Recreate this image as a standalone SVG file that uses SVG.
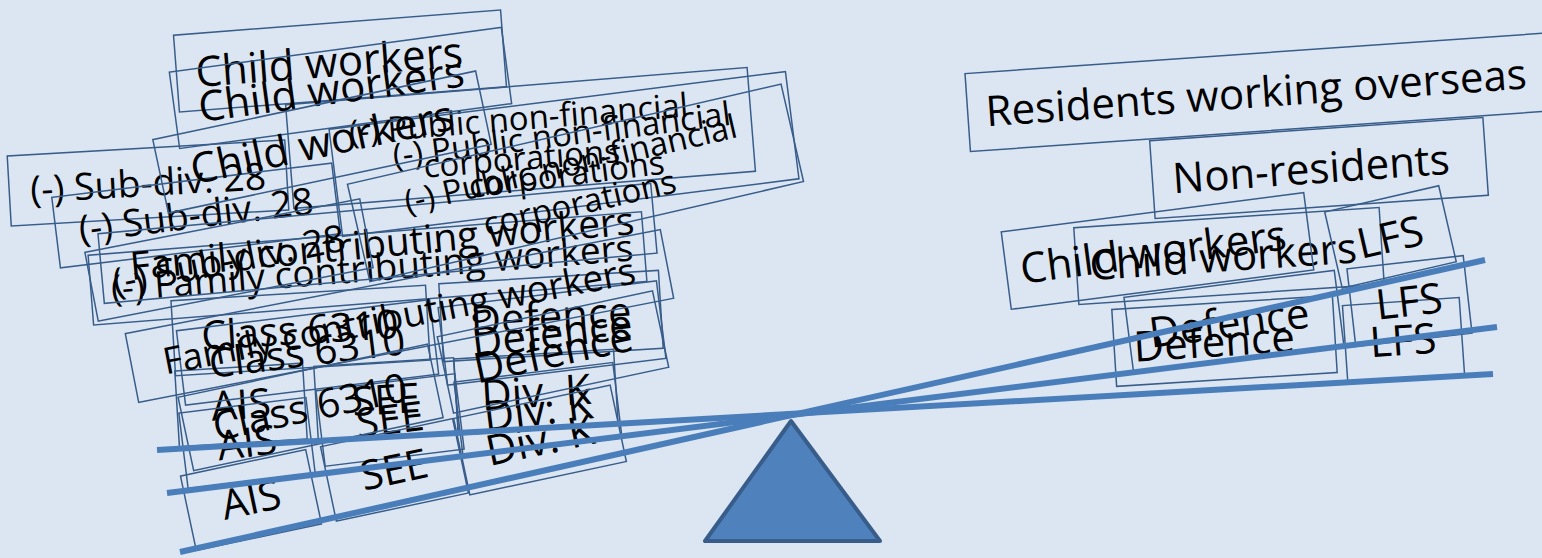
<svg xmlns="http://www.w3.org/2000/svg" width="1542" height="558" viewBox="0 0 1542 558">
<style>
.bx{fill:none;stroke:#385d8a;stroke-width:1.5}
.t{font-family:"Open Sans","Noto Sans",sans-serif;font-size:42px;fill:#000;text-anchor:middle}
.s40{font-size:40px}.s41{font-size:41px}.s39{font-size:39px}.s37{font-size:37.5px}.s36{font-size:37px}.s33{font-size:33px}
.beam{stroke:#4a7ebb;stroke-width:6;stroke-linecap:butt}
</style>
<rect width="1542" height="558" fill="#dce6f2"/>
<g id="frame1-left">
<g id="cw1" transform="translate(340,61) rotate(-4.4)"><rect class="bx" x="-164" y="-38.5" width="328" height="77"/><text class="t" x="-11" y="15">Child workers</text></g>
<g id="sd1" transform="translate(148,183) rotate(-3.3)"><rect class="bx" x="-139" y="-35" width="278" height="70"/><text class="t s37" y="13">(-) Sub-div. 28</text></g>
<g id="pub1" transform="translate(520,138) rotate(-4.6)"><rect class="bx" x="-231" y="-52" width="463" height="104"/><text class="t s33" y="-8">(-) Public non-financial</text><text class="t s33" y="32">corporations</text></g>
<g id="fcw1" transform="translate(372,268) rotate(-4.5)"><rect class="bx" x="-282" y="-35" width="555" height="70"/><text class="t s36" y="13">(-) Family contributing workers</text></g>
<g id="c1" transform="translate(300,330) rotate(-3.5)"><rect class="bx" x="-127" y="-37" width="255" height="75"/><text class="t s40" y="14">Class 6310</text></g>
<g id="d1" transform="translate(551,316) rotate(-3.5)"><rect class="bx" x="-110" y="-39" width="220" height="78"/><text class="t" y="15">Defence</text></g>
<g id="a1" transform="translate(241,405) rotate(-3.5)"><rect class="bx" x="-64" y="-38" width="128" height="76"/><text class="t s41" y="14">AIS</text></g>
<g id="s1" transform="translate(386,400) rotate(-3.5)"><rect class="bx" x="-70" y="-38" width="140" height="76"/><text class="t s41" y="14">SEE</text></g>
<g id="k1" transform="translate(536,392) rotate(-3.5)"><rect class="bx" x="-80" y="-38" width="160" height="76"/><text class="t" y="15">Div. K</text></g>
</g>
<g id="frame2-left">
<g id="cw2" transform="translate(340,88) rotate(-7.7)"><rect class="bx" x="-167" y="-38.5" width="335" height="77"/><text class="t" x="-9" y="15">Child workers</text></g>
<g id="sd2" transform="translate(196,215) rotate(-7)"><rect class="bx" x="-141" y="-35" width="282" height="71"/><text class="t s37" y="13">(-) Sub-div. 28</text></g>
<g id="pub2" transform="translate(564,154) rotate(-7.2)"><rect class="bx" x="-230" y="-54" width="460" height="108"/><text class="t s33" y="-8">(-) Public non-financial</text><text class="t s33" y="32">corporations</text></g>
<g id="fcw2" transform="translate(382,243) rotate(-5.2)"><rect class="bx" x="-282" y="-35" width="555" height="70"/><text class="t s39" y="14">Family contributing workers</text></g>
<g id="c2" transform="translate(307,352) rotate(-7)"><rect class="bx" x="-127" y="-37" width="255" height="75"/><text class="t s40" y="14">Class 6310</text></g>
<g id="d2" transform="translate(552,333) rotate(-7)"><rect class="bx" x="-110" y="-39" width="220" height="78"/><text class="t" y="15">Defence</text></g>
<g id="a2" transform="translate(247,443) rotate(-7)"><rect class="bx" x="-64" y="-38" width="128" height="76"/><text class="t s41" y="14">AIS</text></g>
<g id="s2" transform="translate(390,420) rotate(-7)"><rect class="bx" x="-70" y="-38" width="140" height="76"/><text class="t s41" y="14">SEE</text></g>
<g id="k2" transform="translate(538,410) rotate(-7)"><rect class="bx" x="-80" y="-38" width="160" height="76"/><text class="t" y="15">Div. K</text></g>
</g>
<g id="frame3-left">
<g id="cw3" transform="translate(322,142) rotate(-12)"><rect class="bx" x="-165" y="-37.5" width="330" height="75"/><text class="t" y="15">Child workers</text></g>
<g id="sd3" transform="translate(229,260) rotate(-11)"><rect class="bx" x="-140" y="-35" width="280" height="70"/><text class="t s37" y="13">(-) Sub-div. 28</text></g>
<g id="pub3" transform="translate(575,183) rotate(-13)"><rect class="bx" x="-222" y="-50" width="445" height="100"/><text class="t s33" y="-8">(-) Public non-financial</text><text class="t s33" y="32">corporations</text></g>
<g id="fcw3" transform="translate(399,316) rotate(-11)"><rect class="bx" x="-272" y="-35" width="545" height="70"/><text class="t s36" y="13">Family contributing workers</text></g>
<g id="c3" transform="translate(310,407) rotate(-12)"><rect class="bx" x="-127" y="-37" width="255" height="75"/><text class="t s40" y="14">Class 6310</text></g>
<g id="d3" transform="translate(553,352) rotate(-12)"><rect class="bx" x="-110" y="-39" width="220" height="78"/><text class="t" y="15">Defence</text></g>
<g id="a3" transform="translate(251,500) rotate(-12)"><rect class="bx" x="-64" y="-38" width="128" height="76"/><text class="t s41" y="14">AIS</text></g>
<g id="s3" transform="translate(394,470) rotate(-12)"><rect class="bx" x="-67" y="-38" width="135" height="76"/><text class="t s41" y="14">SEE</text></g>
<g id="k3" transform="translate(540,440) rotate(-12)"><rect class="bx" x="-80" y="-39" width="160" height="78"/><text class="t" y="15">Div. K</text></g>
</g>
<g id="right">
<g id="rwo" transform="translate(1262,92) rotate(-4)"><rect class="bx" x="-295" y="-39" width="590" height="78"/><text class="t" x="-6" y="15">Residents working overseas</text></g>
<g id="nr" transform="translate(1319,168) rotate(-4)"><rect class="bx" x="-167" y="-39" width="334" height="78"/><text class="t" x="-8" y="15">Non-residents</text></g>
<g id="cwR1" transform="translate(1229,256) rotate(-3.8)"><rect class="bx" x="-153" y="-38.5" width="306" height="77"/><text class="t" x="-6" y="15">Child workers</text></g>
<g id="cwR2" transform="translate(1157,251) rotate(-7.4)"><rect class="bx" x="-152" y="-39" width="305" height="78"/><text class="t" x="-4" y="15">Child workers</text></g>
<g id="dR1" transform="translate(1224,341) rotate(-3.6)"><rect class="bx" x="-110" y="-38.5" width="221" height="77"/><text class="t" x="-10" y="15">Defence</text></g>
<g id="dR2" transform="translate(1234,322) rotate(-7.3)"><rect class="bx" x="-106" y="-38.5" width="212" height="77"/><text class="t" x="-5" y="15">Defence</text></g>
<g id="lR1" transform="translate(1403,340) rotate(-4)"><rect class="bx" x="-58" y="-38.5" width="117" height="77"/><text class="t" y="15">LFS</text></g>
<g id="lR2" transform="translate(1409,301) rotate(-6.5)"><rect class="bx" x="-58" y="-39" width="117" height="78"/><text class="t" y="15">LFS</text></g>
<g id="lR3" transform="translate(1390,237) rotate(-13)"><rect class="bx" x="-58" y="-39" width="117" height="78"/><text class="t" y="15">LFS</text></g>
</g>
<g id="connectors">
<line class="beam" x1="157" y1="450" x2="1493" y2="374"/>
<line class="beam" x1="167" y1="493" x2="1497" y2="327"/>
<line class="beam" x1="180" y1="552" x2="1485" y2="260"/>
</g>
<g id="fulcrum"><polygon points="791,421 705,541 880,541" fill="#4f81bd" stroke="#385d8a" stroke-width="4" stroke-linejoin="round"/></g>
</svg>
